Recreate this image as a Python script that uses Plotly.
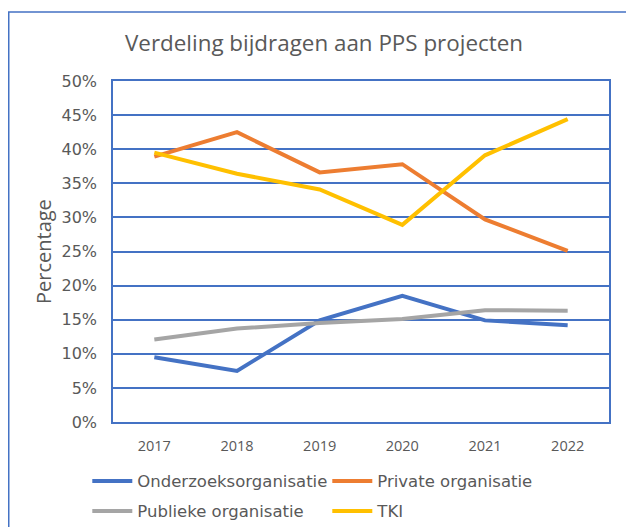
import plotly.graph_objects as go

years = ["2017", "2018", "2019", "2020", "2021", "2022"]
onderzoek = [0.095, 0.075, 0.149, 0.185, 0.149, 0.142]
private = [0.389, 0.425, 0.366, 0.378, 0.297, 0.251]
publiek = [0.121, 0.137, 0.145, 0.151, 0.164, 0.163]
tki = [0.395, 0.364, 0.341, 0.289, 0.391, 0.444]

series_names = ["Onderzoeksorganisatie", "Private organisatie", "Publieke organisatie", "TKI"]
series_values = [onderzoek, private, publiek, tki]
colors = ["#4472C4", "#ED7D31", "#A5A5A5", "#FFC000"]
legend_ids = ["legend", "legend", "legend2", "legend2"]

# page is offset by the 8px body margin
OFF = 8
W, H = 660, 560
L, T = 105, 73
pw, ph = 496, 341
R, B = W - L - pw, H - T - ph

def px(xpage):
    return (xpage - OFF - L) / pw

def py(ypage):
    return (T + ph - (ypage - OFF)) / ph

fig = go.Figure()
for name, vals, c, lg in zip(series_names, series_values, colors, legend_ids):
    fig.add_trace(go.Scatter(x=years, y=vals, name=name, mode="lines",
                             line=dict(color=c, width=4), legend=lg))

blue = "#4472C4"
grey_txt = "#595959"
leg_common = dict(orientation="h", xanchor="left", yanchor="top",
                  entrywidth=185, entrywidthmode="pixels", itemwidth=40,
                  font=dict(family="DejaVu Sans", size=16.5, color=grey_txt),
                  bgcolor="rgba(0,0,0,0)")

fig.update_layout(
    width=W, height=H,
    margin=dict(l=L, r=R, t=T, b=B),
    paper_bgcolor="white", plot_bgcolor="white",
    title=dict(text="Verdeling bijdragen aan PPS projecten", x=(324 - OFF) / W, xref="container",
               xanchor="center", y=1 - (43 - OFF) / H, yref="container", yanchor="middle",
               font=dict(family="Open Sans", size=22.4, color=grey_txt)),
    xaxis=dict(type="category", range=[-0.5, 5.5], showgrid=False, zeroline=False,
               showline=True, linecolor=blue, linewidth=1.5, mirror=True,
               ticks="", ticklabelstandoff=10, automargin=False,
               tickfont=dict(family="Open Sans", size=14.5, color=grey_txt)),
    yaxis=dict(range=[0, 0.5], dtick=0.05, tickformat=".0%", showgrid=True,
               gridcolor=blue, gridwidth=1.5, zeroline=False,
               showline=True, linecolor=blue, linewidth=1.5, mirror=True,
               ticks="", ticklabelstandoff=11, automargin=False,
               tickfont=dict(family="DejaVu Sans", size=16, color=grey_txt)),
    legend=dict(x=px(93 - 5.7), y=py(480.7 - 17), **leg_common),
    legend2=dict(x=px(93 - 5.7), y=py(510.7 - 17), **leg_common),
    annotations=[dict(text="Percentage", textangle=-90, x=px(43.5), y=0.5,
                      xref="paper", yref="paper", showarrow=False,
                      xanchor="center", yanchor="middle",
                      font=dict(family="Open Sans", size=20, color=grey_txt))],
    shapes=[dict(type="rect", xref="paper", yref="paper",
                 x0=px(OFF + 0.75), x1=px(650), y0=py(545), y1=py(12),
                 line=dict(color=blue, width=1.5), layer="below")],
)

fig.write_html("out.html")
